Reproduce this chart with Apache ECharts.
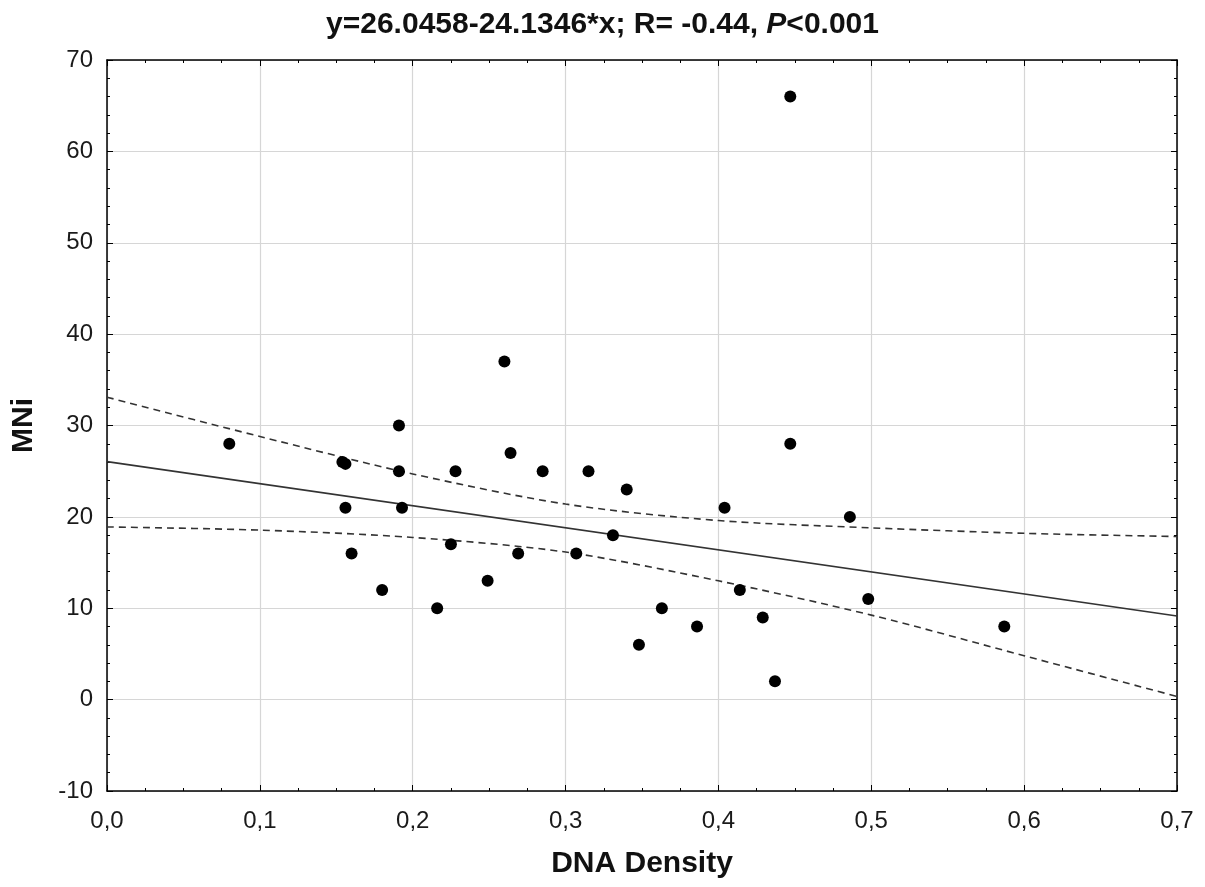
<!DOCTYPE html>
<html>
<head>
<meta charset="utf-8">
<script src="https://cdn.jsdelivr.net/npm/echarts@6/dist/echarts.min.js"></script>
<style>
  html, body { margin: 0; padding: 0; background: #fff; }
  #chart { width: 1205px; height: 887px; }
</style>
</head>
<body>
<div id="chart"></div>
<script>
  // scatter points
  const dnaDensity = [0.080, 0.154, 0.156, 0.191, 0.191, 0.156, 0.193, 0.160, 0.180, 0.216,
    0.225, 0.228, 0.249, 0.260, 0.264, 0.269, 0.285, 0.307, 0.315, 0.331,
    0.340, 0.348, 0.363, 0.386, 0.404, 0.414, 0.429, 0.437, 0.447, 0.447,
    0.486, 0.498, 0.587];
  const mni = [28, 26, 25.8, 30, 25, 21, 21, 16, 12, 10,
    17, 25, 13, 37, 27, 16, 25, 16, 25, 18,
    23, 6, 10, 8, 21, 12, 9, 2, 28, 66,
    20, 11, 8];

  // fitted line y=26.0458-24.1346*x and 95% band, read at the grid lines
  const fitX = [0, 0.7];
  const fitY = [26.05, 9.15];
  const bandX = [0, 0.1, 0.2, 0.3, 0.4, 0.5, 0.6, 0.7];
  const bandUpper = [33.1, 28.8, 24.7, 21.4, 19.6, 18.8, 18.2, 17.85];
  const bandLower = [18.9, 18.55, 17.75, 16.15, 13.0, 9.25, 4.8, 0.35];

  const xTicks = ['0,0', '0,1', '0,2', '0,3', '0,4', '0,5', '0,6', '0,7'];

  const chart = echarts.init(document.getElementById('chart'));

  const font = 'Liberation Sans, Arial, sans-serif';
  const frame = { show: true, onZero: false, lineStyle: { color: '#000', width: 1.5 } };
  const tick = { show: true, inside: true, length: 6, lineStyle: { color: '#000' } };

  const pairs = (xs, ys) => xs.map((x, i) => [x, ys[i]]);

  chart.setOption({
    backgroundColor: '#fff',
    animation: false,
    title: {
      text: '{n|y=26.0458-24.1346*x; R= -0.44, }{i|P}{n|<0.001}',
      left: 'center',
      top: 5,
      textStyle: {
        rich: {
          n: { fontFamily: font, fontSize: 30, fontWeight: 'bold', color: '#111' },
          i: { fontFamily: font, fontSize: 30, fontWeight: 'bold', fontStyle: 'italic', color: '#111' }
        }
      }
    },
    grid: { left: 107, right: 28, top: 60, bottom: 96 },
    xAxis: [{
      type: 'value',
      position: 'bottom',
      min: 0,
      max: 0.7,
      interval: 0.1,
      name: 'DNA Density',
      nameLocation: 'middle',
      nameGap: 58,
      nameTextStyle: { fontFamily: font, fontSize: 30, fontWeight: 'bold', color: '#111' },
      axisLine: frame,
      axisTick: tick,
      minorTick: { show: true, splitNumber: 4, length: 3, lineStyle: { color: '#000' } },
      axisLabel: {
        fontFamily: font, fontSize: 24, color: '#1a1a1a', margin: 18,
        formatter: (v) => xTicks[Math.round(v * 10)]
      },
      splitLine: { show: true, lineStyle: { color: '#d6d6d6', width: 1.2 } }
    }, {
      type: 'value',
      position: 'top',
      min: 0,
      max: 0.7,
      interval: 0.1,
      axisLine: frame,
      axisTick: tick,
      minorTick: { show: true, splitNumber: 4, length: 3, lineStyle: { color: '#000' } },
      axisLabel: { show: false },
      splitLine: { show: false }
    }],
    yAxis: [{
      type: 'value',
      position: 'left',
      min: -10,
      max: 70,
      interval: 10,
      name: 'MNi',
      nameLocation: 'middle',
      nameGap: 68,
      nameTextStyle: { fontFamily: font, fontSize: 30, fontWeight: 'bold', color: '#111' },
      axisLine: frame,
      axisTick: tick,
      minorTick: { show: true, splitNumber: 5, length: 3, lineStyle: { color: '#000' } },
      axisLabel: { fontFamily: font, fontSize: 24, color: '#1a1a1a', margin: 14 },
      splitLine: { show: true, lineStyle: { color: '#d6d6d6', width: 1.2 } }
    }, {
      type: 'value',
      position: 'right',
      min: -10,
      max: 70,
      interval: 10,
      axisLine: frame,
      axisTick: tick,
      minorTick: { show: true, splitNumber: 5, length: 3, lineStyle: { color: '#000' } },
      axisLabel: { show: false },
      splitLine: { show: false }
    }],
    series: [{
      type: 'line',
      data: pairs(fitX, fitY),
      showSymbol: false,
      lineStyle: { color: '#333', width: 1.6 },
      z: 3
    }, {
      type: 'line',
      data: pairs(bandX, bandUpper),
      smooth: 0.3,
      showSymbol: false,
      lineStyle: { color: '#333', width: 1.6, type: [7, 5] },
      z: 3
    }, {
      type: 'line',
      data: pairs(bandX, bandLower),
      smooth: 0.3,
      showSymbol: false,
      lineStyle: { color: '#333', width: 1.6, type: [7, 5] },
      z: 3
    }, {
      type: 'scatter',
      data: pairs(dnaDensity, mni),
      symbol: 'circle',
      symbolSize: 12,
      itemStyle: { color: '#000', opacity: 1 },
      z: 4
    }]
  });
</script>
</body>
</html>
